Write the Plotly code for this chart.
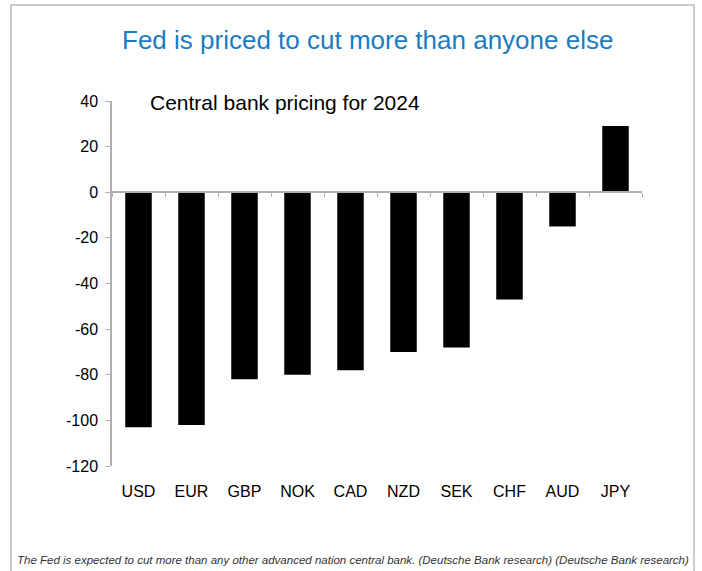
import plotly.graph_objects as go

# ---- data ----
currencies = ["USD", "EUR", "GBP", "NOK", "CAD", "NZD", "SEK", "CHF", "AUD", "JPY"]
pricing_2024 = [-103, -102, -82, -80, -78, -70, -68, -47, -15, 29]
y_ticks = [40, 20, 0, -20, -40, -60, -80, -100, -120]

title_text = "Fed is priced to cut more than anyone else"
subtitle_text = "Central bank pricing for 2024"
caption_text = ("The Fed is expected to cut more than any other advanced nation central bank. "
                "(Deutsche Bank research) (Deutsche Bank research)")

# ---- layout constants (pixels) ----
W, H = 702, 571
L, R, T, B = 112, 60, 101, 105
PW, PH = W - L - R, H - T - B


def px_x(x):
    return (x - L) / PW


def px_y(y):
    return (H - B - y) / PH


YMIN, YMAX = -120, 40
zero_pos = (0 - YMIN) / (YMAX - YMIN)

fig = go.Figure()
fig.add_trace(go.Bar(
    x=currencies, y=pricing_2024, width=0.5,
    marker=dict(color="black", line=dict(width=0)),
    showlegend=False, hoverinfo="x+y",
))
# helper trace for the axis drawn along the zero line
fig.add_trace(go.Scatter(
    x=currencies, y=[None] * len(currencies), xaxis="x2",
    mode="markers", showlegend=False, hoverinfo="skip",
))

axis_grey = "#b0b0b0"
fig.update_layout(
    width=W, height=H,
    margin=dict(l=L, r=R, t=T, b=B),
    paper_bgcolor="white", plot_bgcolor="white",
    font=dict(family="Arial, Liberation Sans, sans-serif", size=16, color="black"),
    xaxis=dict(
        type="category", categoryorder="array", categoryarray=currencies,
        showline=False, showgrid=False, zeroline=False, ticks="",
        tickfont=dict(size=16, color="black"), ticklabelstandoff=14,
        range=[-0.5, len(currencies) - 0.5],
    ),
    xaxis2=dict(
        type="category", categoryorder="array", categoryarray=currencies,
        overlaying="x", matches="x", anchor="free", position=zero_pos, side="bottom",
        showline=True, linecolor=axis_grey, linewidth=1.5,
        ticks="outside", tickson="boundaries", ticklen=4, tickcolor=axis_grey,
        showticklabels=False, showgrid=False, zeroline=False,
    ),
    yaxis=dict(
        range=[YMIN, YMAX], tickvals=y_ticks, ticktext=[str(v) for v in y_ticks],
        showline=True, linecolor=axis_grey, linewidth=1.5,
        ticks="outside", ticklen=5, tickcolor=axis_grey,
        showgrid=False, zeroline=False,
        tickfont=dict(size=16, color="black"), ticklabelstandoff=4,
    ),
    bargap=0.5,
)

fig.add_annotation(
    text=title_text, xref="paper", yref="paper",
    x=px_x(367), y=px_y(40), xanchor="center", yanchor="middle",
    showarrow=False, font=dict(size=26, color="#1a7cbf", family="Arial, Liberation Sans, sans-serif"),
)
fig.add_annotation(
    text=subtitle_text, xref="paper", yref="paper",
    x=px_x(148), y=px_y(103), xanchor="left", yanchor="middle",
    showarrow=False, font=dict(size=21, color="black"),
)
fig.add_annotation(
    text="<i>" + caption_text + "</i>", xref="paper", yref="paper",
    x=px_x(15), y=px_y(560), xanchor="left", yanchor="middle",
    showarrow=False, font=dict(size=11.5, color="#333333"),
)
# outer light-grey frame
fig.add_shape(
    type="rect", xref="paper", yref="paper",
    x0=px_x(11), x1=px_x(694), y0=px_y(590), y1=px_y(5),
    line=dict(color="#cccccc", width=2), fillcolor="rgba(0,0,0,0)", layer="below",
)

fig.write_html("out.html")
